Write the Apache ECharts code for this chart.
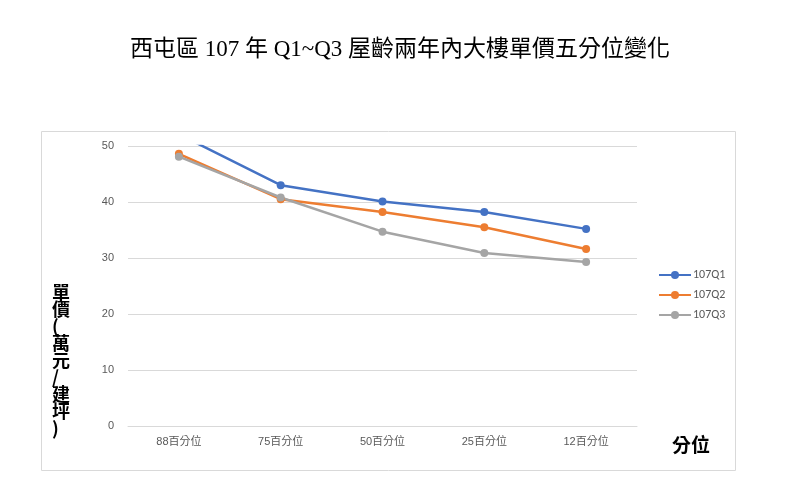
<!DOCTYPE html>
<html><head><meta charset="utf-8">
<script src="https://cdn.jsdelivr.net/npm/echarts@6/dist/echarts.min.js"></script>
<style>html,body{margin:0;padding:0;background:#fff}#c{width:800px;height:497px}</style>
</head><body><div id="c"></div>
<script>
const categories = ['88百分位','75百分位','50百分位','25百分位','12百分位'];
const q1 = [52.1, 43.0, 40.1, 38.2, 35.2];
const q2 = [48.6, 40.5, 38.2, 35.5, 31.6];
const q3 = [48.1, 40.8, 34.7, 30.9, 29.3];
const seriesNames = ['107Q1','107Q2','107Q3'];
const colors = ['#4472c4','#ed7d31','#a5a5a5'];
const yTicks = {min:0, max:50, interval:10};

const chart = echarts.init(document.getElementById('c'), null, {renderer:'canvas'});
const mk = (name, data, color) => ({
  name, type:'line', data, clip:true,
  symbol:'circle', symbolSize:8,
  itemStyle:{color}, lineStyle:{color, width:2.5},
  emphasis:{disabled:true}
});
chart.setOption({
  animation:false,
  title:{text:'西屯區 107 年 Q1~Q3 屋齡兩年內大樓單價五分位變化', left:'center', top:33,
    textStyle:{fontFamily:'"Liberation Serif","Noto Sans CJK TC",serif', fontSize:23, fontWeight:'normal', color:'#000'}},
  graphic:[
    {type:'rect', shape:{x:41.5,y:131.5,width:694,height:339}, style:{fill:'none', stroke:'#d9d9d9', lineWidth:1}, z:-1},
    {type:'text', left:52, top:283, style:{text:'單\n價\n(\n萬\n元\n/\n建\n坪\n)', font:'bold 18px "Noto Sans CJK TC"', fill:'#000', lineHeight:17, align:'center'}},
    {type:'text', left:672, top:435, style:{text:'分位', font:'bold 19px "Noto Sans CJK TC"', fill:'#000'}}
  ],
  legend:{orient:'vertical', left:653, top:264, itemGap:8, itemWidth:32, itemHeight:10,
    data:seriesNames, textStyle:{color:'#595959', fontSize:12, padding:[0,0,0,-3], fontFamily:'Calibri,"Liberation Sans",sans-serif'}},
  grid:{left:128, right:163, top:146, bottom:71},
  xAxis:{type:'category', data:categories, boundaryGap:true,
    axisLine:{lineStyle:{color:'#d9d9d9'}}, axisTick:{show:false},
    axisLabel:{color:'#595959', fontSize:11, margin:10, fontFamily:'"Liberation Sans","Noto Sans CJK TC",sans-serif'}},
  yAxis:{type:'value', min:yTicks.min, max:yTicks.max, interval:yTicks.interval,
    axisLine:{show:false}, axisTick:{show:false},
    splitLine:{lineStyle:{color:'#d9d9d9'}},
    axisLabel:{color:'#595959', fontSize:11, margin:14, fontFamily:'"Liberation Sans",sans-serif'}},
  series:[mk(seriesNames[0], q1, colors[0]), mk(seriesNames[1], q2, colors[1]), mk(seriesNames[2], q3, colors[2])]
});
</script></body></html>
